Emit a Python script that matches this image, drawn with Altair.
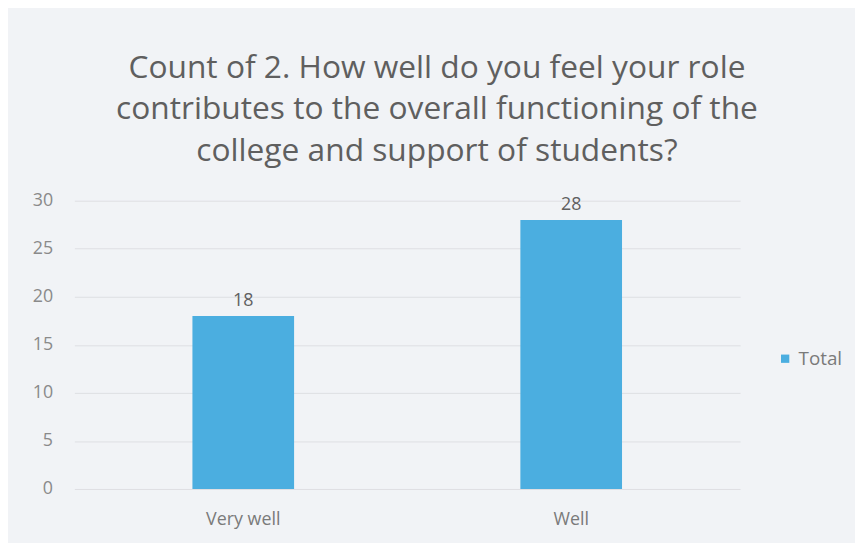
import altair as alt
import pandas as pd

categories = ["Very well", "Well"]
counts = [18, 28]
series = ["Total", "Total"]

df = pd.DataFrame({"category": categories, "count": counts, "series": series})

base = alt.Chart(df)

bars = base.mark_bar(color="#4BAEE0").encode(
    x=alt.X("category:N", sort=categories, title=None,
            scale=alt.Scale(paddingInner=0.69, paddingOuter=0.36),
            axis=alt.Axis(labelAngle=0, labelFontSize=18, labelColor="#7a7a7a",
                          labelPadding=22, domain=False, ticks=False, grid=False,
                          labelFont="Open Sans")),
    y=alt.Y("count:Q", title=None,
            scale=alt.Scale(domain=[0, 30]),
            axis=alt.Axis(values=[0, 5, 10, 15, 20, 25, 30], labelFontSize=18,
                          labelColor="#8a8a8a", labelPadding=22, domain=False,
                          ticks=False, gridColor="#dedfe3", labelFont="Open Sans")),
    fill=alt.Fill("series:N", scale=alt.Scale(range=["#4BAEE0"]),
                  legend=alt.Legend(title=None, orient="none", legendX=708, legendY=150,
                                    labelFontSize=19, labelColor="#7a7a7a",
                                    symbolType="square", symbolSize=70,
                                    labelFont="Open Sans")),
)

labels = base.mark_text(dy=-15, fontSize=18, color="#606060", font="Open Sans").encode(
    x=alt.X("category:N", sort=categories),
    y="count:Q",
    text="count:Q",
)

chart = (bars + labels).properties(
    width=672,
    height=291,
    background="#F1F3F6",
    padding={"left": 67, "top": 192, "right": 116, "bottom": 52},
    autosize=alt.AutoSizeParams(type="none"),
    title=alt.TitleParams(
        text=["Count of 2. How well do you feel your role",
              "contributes to the overall functioning of the",
              "college and support of students?"],
        fontSize=32, fontWeight="normal", color="#5f5f5f", font="Open Sans",
        lineHeight=42, anchor="middle", dx=30, offset=24,
    ),
).configure_view(stroke=None)

chart.save("out.html", embed_options={"renderer": "svg", "actions": False})
